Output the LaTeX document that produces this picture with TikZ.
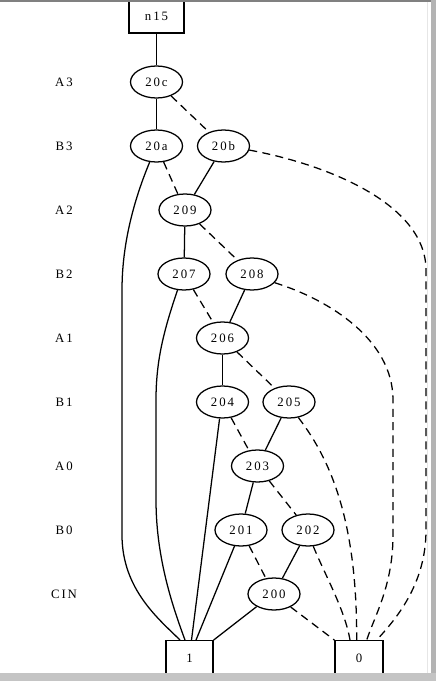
\documentclass[tikz,border=0pt]{standalone}
\usepackage{fontspec}
\setmainfont{Liberation Serif}
\newfontfamily\lblfont[LetterSpace=15]{Liberation Serif}
\usetikzlibrary{shapes.geometric,calc}

\definecolor{framedark}{HTML}{808080}
\definecolor{frameside}{HTML}{B3B3B3}
\definecolor{framebottom}{HTML}{C4C4C4}
\definecolor{frameline}{HTML}{E6E6E6}

\begin{document}
\begin{tikzpicture}[x=0.75pt,y=-0.75pt,
  solidedge/.style={line width=0.95pt},
  dashedge/.style={line width=0.95pt, dash pattern=on 6pt off 4pt},
  bddnode/.style={ellipse, draw, line width=0.95pt, minimum width=39pt,
    minimum height=24pt, inner sep=0pt, font=\lblfont\fontsize{9.6}{11}\selectfont},
  termnode/.style={rectangle, draw, line width=0.95pt, inner sep=0pt,
    font=\lblfont\fontsize{9.6}{11}\selectfont},
  levellabel/.style={inner sep=0pt, font=\lblfont\fontsize{9.6}{11}\selectfont}]

\useasboundingbox (0,0) rectangle (436,681);
\clip (0,0) rectangle (436,681);

% variable order labels
\node[levellabel] (lA3) at (64,82)  {A3};
\node[levellabel] (lB3) at (64,146) {B3};
\node[levellabel] (lA2) at (64,210) {A2};
\node[levellabel] (lB2) at (64,274) {B2};
\node[levellabel] (lA1) at (64,338) {A1};
\node[levellabel] (lB1) at (64,402) {B1};
\node[levellabel] (lA0) at (64,466) {A0};
\node[levellabel] (lB0) at (64,530) {B0};
\node[levellabel] (lCIN) at (64,594) {CIN};

% root and terminals
\node[termnode, minimum width=41.25pt, minimum height=25.5pt] (n15) at (156.5,16) {n15};
\node[termnode, minimum width=35.25pt, minimum height=26pt] (one) at (189.5,658) {1};
\node[termnode, minimum width=36pt, minimum height=26pt] (zero) at (359,658) {0};

% decision nodes
\node[bddnode] (n20c) at (156.5,82) {20c};
\node[bddnode] (n20a) at (156.5,146) {20a};
\node[bddnode] (n20b) at (223.5,146) {20b};
\node[bddnode] (n209) at (185,210) {209};
\node[bddnode] (n207) at (184,274) {207};
\node[bddnode] (n208) at (252,274) {208};
\node[bddnode] (n206) at (222.5,338) {206};
\node[bddnode] (n204) at (222.5,402) {204};
\node[bddnode] (n205) at (289,402) {205};
\node[bddnode] (n203) at (257.5,466) {203};
\node[bddnode] (n201) at (241,530) {201};
\node[bddnode] (n202) at (308,530) {202};
\node[bddnode] (n200) at (274,594) {200};

% high (solid) edges between decision nodes
\draw[solidedge] (n15) -- (n20c);
\draw[solidedge] (n20c) -- (n20a);
\draw[solidedge] (n20b) -- (n209);
\draw[solidedge] (n209) -- (n207);
\draw[solidedge] (n208) -- (n206);
\draw[solidedge] (n206) -- (n204);
\draw[solidedge] (n205) -- (n203);
\draw[solidedge] (n203) -- (n201);
\draw[solidedge] (n202) -- (n200);

% low (dashed) edges between decision nodes
\draw[dashedge] (n20c) -- (n20b);
\draw[dashedge] (n20a) -- (n209);
\draw[dashedge] (n209) -- (n208);
\draw[dashedge] (n207) -- (n206);
\draw[dashedge] (n206) -- (n205);
\draw[dashedge] (n204) -- (n203);
\draw[dashedge] (n203) -- (n202);
\draw[dashedge] (n201) -- (n200);

% edges into terminal 1
\draw[solidedge] (n20a.247) .. controls (136,195) and (122,240) .. (122,290)
  -- (122,535) .. controls (122,590) and (160,620) .. ($(one.north)+(-9.5,0)$);
\draw[solidedge] (n207.248) .. controls (164,330) and (156,360) .. (156,400)
  -- (156,500) .. controls (156,560) and (174,610) .. ($(one.north)+(-4.5,0)$);
\draw[solidedge] (n204.260) -- ($(one.north)+(2,0)$);
\draw[solidedge] (n201.248) -- ($(one.north)+(6.5,0)$);
\draw[solidedge] (n200.216) -- (one.north east);

% edges into terminal 0
\draw[dashedge] (n20b.351) .. controls (330,165) and (426,205) .. (426,270)
  -- (426,530) .. controls (426,585) and (395,620) .. ($(zero.north)+(17.7,0)$);
\draw[dashedge] (n208.339) .. controls (330,300) and (393,340) .. (393,400)
  -- (393,535) .. controls (393,585) and (375,615) .. ($(zero.north)+(7.7,0)$);
\draw[dashedge] (n205.301) .. controls (335,465) and (357,530) .. ($(zero.north)+(-2.3,0)$);
\draw[dashedge] (n202.288) .. controls (325,575) and (345,610) .. ($(zero.north)+(-9,0)$);
\draw[dashedge] (n200.322) -- (zero.north west);

% window frame
\fill[framedark] (0,0) rectangle (436,2.5);
\draw[frameline, line width=0.75pt] (427.5,2.5) -- (427.5,673);
\fill[frameside] (431,0) rectangle (436,681);
\fill[framebottom] (0,673) rectangle (436,681);
\end{tikzpicture}
\end{document}
